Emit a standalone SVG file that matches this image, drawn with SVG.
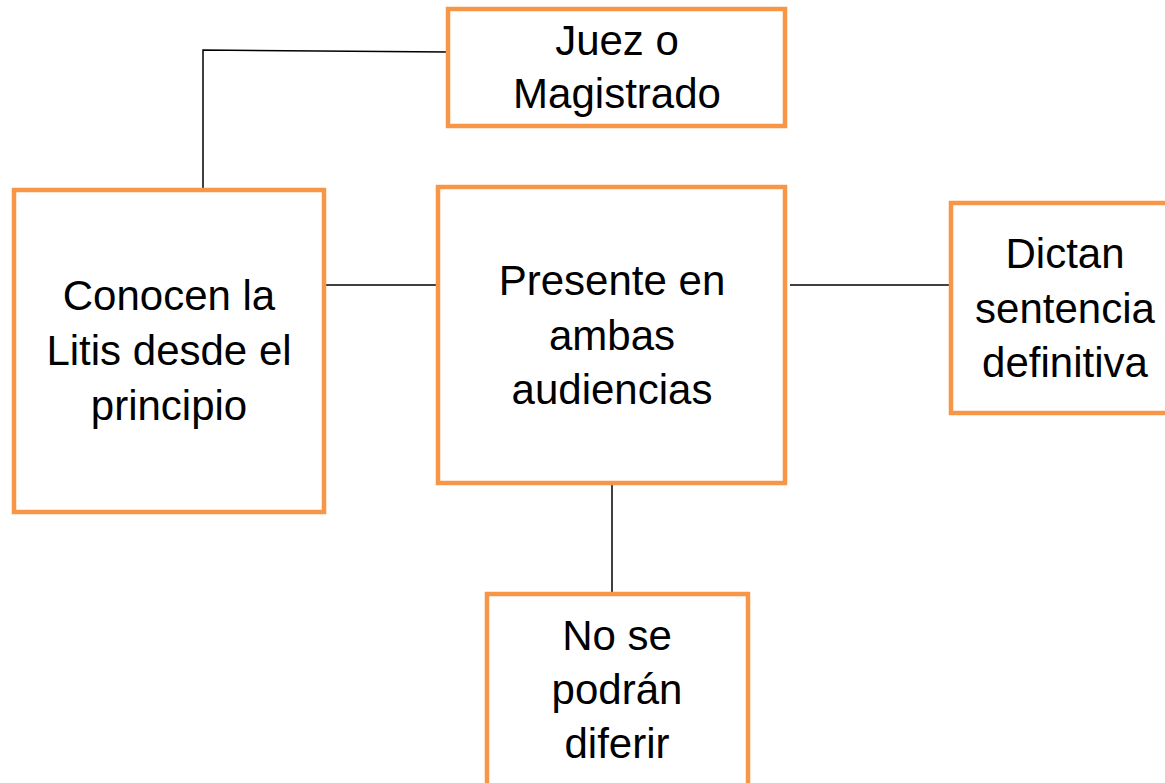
<svg xmlns="http://www.w3.org/2000/svg" width="1165" height="783" viewBox="0 0 1165 783">
<style>
.box{fill:#fff;stroke:#F79646;stroke-width:4.5}
.t{font-family:"Liberation Sans",Arial,sans-serif;font-size:42px;fill:#000;text-anchor:middle}
.c{stroke:#000;stroke-width:1.5;fill:none}
</style>
<g id="connectors">
<polyline class="c" points="448,52 203,50 203,188"/>
<line class="c" x1="326" y1="285" x2="436" y2="285"/>
<line class="c" x1="790" y1="285" x2="949" y2="285"/>
<line class="c" x1="612" y1="485" x2="612" y2="592"/>
</g>
<g id="juez">
<rect class="box" x="448" y="9" width="337" height="117"/>
<text class="t" x="617" y="55">Juez o</text>
<text class="t" x="617" y="108">Magistrado</text>
</g>
<g id="conocen">
<rect class="box" x="14" y="190" width="310" height="322"/>
<text class="t" x="169" y="310">Conocen la</text>
<text class="t" x="169" y="365">Litis desde el</text>
<text class="t" x="169" y="420">principio</text>
</g>
<g id="presente">
<rect class="box" x="438" y="187" width="347" height="296"/>
<text class="t" x="612" y="295">Presente en</text>
<text class="t" x="612" y="350">ambas</text>
<text class="t" x="612" y="404">audiencias</text>
</g>
<g id="dictan">
<rect class="box" x="951" y="203" width="240" height="210"/>
<text class="t" x="1065" y="268">Dictan</text>
<text class="t" x="1065" y="323">sentencia</text>
<text class="t" x="1065" y="377">definitiva</text>
</g>
<g id="nose">
<rect class="box" x="487" y="594" width="261" height="220"/>
<text class="t" x="617" y="650">No se</text>
<text class="t" x="617" y="704">podrán</text>
<text class="t" x="617" y="758">diferir</text>
</g>
</svg>
